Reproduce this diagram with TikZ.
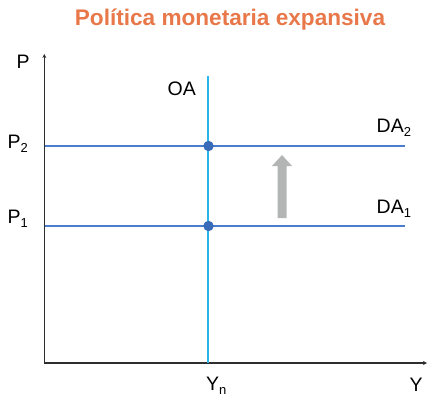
\documentclass[tikz,border=0pt]{standalone}
\usepackage{fontspec}
\setmainfont{Liberation Sans}
\usetikzlibrary{positioning,arrows.meta}
\definecolor{titleorange}{HTML}{E8784A}
\definecolor{dablue}{HTML}{4A7DCB}
\definecolor{dotblue}{HTML}{3A6BB8}
\definecolor{oacyan}{HTML}{2BB6EA}
\definecolor{shiftgray}{HTML}{B3B5B5}
\definecolor{axisgray}{HTML}{2E2E2E}
\newcommand{\lowsub}[1]{\raisebox{-0.45ex}{\fontsize{13}{13}\selectfont #1}}

\begin{document}
\begin{tikzpicture}[x=1pt,y=-1pt]
\tikzstyle{every node}+=[inner sep=0pt]
\tikzstyle{lbl}=[font=\fontsize{19.5}{19.5}\selectfont, anchor=base west]
\tikzstyle{axis}=[draw=axisgray, line width=1.6pt, -{Stealth[length=4pt,width=4pt]}]
\tikzstyle{daline}=[draw=dablue, line width=1.8pt]
\useasboundingbox (0,0) rectangle (427,397);
\node [font=\bfseries\fontsize{22.6}{22.6}\selectfont, text=titleorange] (title) at (230,20) {Política monetaria expansiva};
% axes
\coordinate (o) at (44.3,363);
\coordinate (ptop) at (44.3,54);
\coordinate (yend) at (427,363);
\draw [axis] (o) -- (ptop);
\draw [axis] (o) -- (yend);
% aggregate supply
\coordinate (oatop) at (208.3,76);
\coordinate (oabot) at (208.3,363);
\draw [draw=oacyan, line width=1.8pt] (oabot) -- (oatop);
% aggregate demand
\coordinate (da2l) at (45,146);
\coordinate (da2r) at (405,146);
\coordinate (da1l) at (45,226);
\coordinate (da1r) at (405,226);
\draw [daline] (da2l) -- (da2r);
\draw [daline] (da1l) -- (da1r);
\fill [dotblue] (208.5,146) circle (5.2);
\fill [dotblue] (208.5,226) circle (5.2);
% shift
\fill [shiftgray] (277.5,218) -- (277.5,166) -- (272,166) -- (282,155) -- (292,166) -- (286.5,166) -- (286.5,218) -- cycle;
% labels
\node [lbl] (plbl) at (16.5,68.5) {P};
\node [lbl] (p2lbl) at (7.5,148) {P\lowsub{2}};
\node [lbl] (p1lbl) at (7.5,223) {P\lowsub{1}};
\node [lbl] (oalbl) at (167.5,95) {OA};
\node [lbl] (da2lbl) at (376.5,132) {DA\lowsub{2}};
\node [lbl] (da1lbl) at (376.5,213) {DA\lowsub{1}};
\node [lbl] (ynlbl) at (206,390) {Y\lowsub{n}};
\node [lbl] (ylbl) at (409.5,391) {Y};
\end{tikzpicture}
\end{document}
